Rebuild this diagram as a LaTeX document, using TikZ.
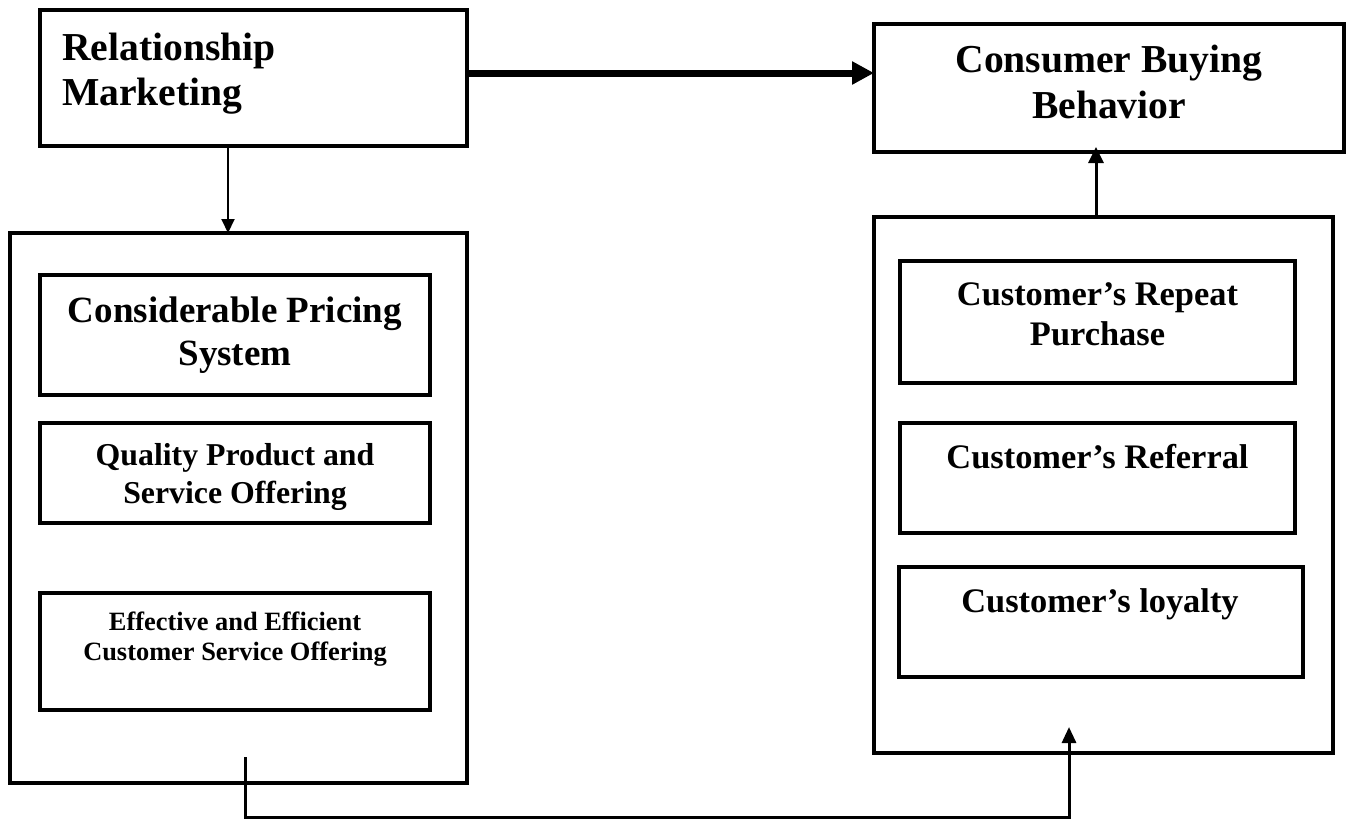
\documentclass[tikz,border=0pt]{standalone}
\usepackage{fontspec}
\setmainfont{Liberation Serif}
\usetikzlibrary{arrows.meta,calc}
\begin{document}
\begin{tikzpicture}[x=1pt,y=-1pt,
  box/.style={draw, line width=3.3pt, rectangle, inner sep=0pt, outer sep=0pt, anchor=north west},
  bigbox/.style={box, line width=4pt},
  topbox/.style={box, line width=3.6pt},
  lbl/.style={inner sep=0pt, anchor=base},
  fA/.style={font=\bfseries\fontsize{39.6}{46}\selectfont},
  fB/.style={font=\bfseries\fontsize{37}{43}\selectfont},
  fC/.style={font=\bfseries\fontsize{31.8}{38}\selectfont},
  fD/.style={font=\bfseries\fontsize{26.4}{30}\selectfont},
  fE/.style={font=\bfseries\fontsize{34.4}{40}\selectfont},
]
\newcommand\mkbox[6]{\node[#1, minimum width={(#5-#3)*1pt}, minimum height={(#6-#4)*1pt}] (#2) at (#3,#4) {};}
\useasboundingbox (0,0) rectangle (1351,819);

% boxes
\mkbox{topbox}{RM}{40}{10}{467}{146}
\mkbox{topbox}{CBB}{874}{24}{1344}{152}
\mkbox{bigbox}{LB}{10}{233}{467}{783}
\mkbox{box}{CPS}{40}{275}{430}{395}
\mkbox{box}{QPS}{40}{423}{430}{523}
\mkbox{box}{EES}{40}{593}{430}{710}
\mkbox{bigbox}{RB}{874}{217}{1333}{753}
\mkbox{box}{CRP}{900}{261}{1295}{383}
\mkbox{box}{CR}{900}{423}{1295}{533}
\mkbox{box}{CL}{899}{567}{1303}{677}

% texts
\node[lbl, fA, anchor=base west] (rmA) at (62,60) {Relationship};
\node[lbl, fA, anchor=base west] (rmB) at (62,105) {Marketing};
\node[lbl, fA] (cbbA) at (1109,72) {Consumer Buying};
\node[lbl, fA] (cbbB) at (1109,118) {Behavior};
\node[lbl, fB] (cpsA) at (235,322) {Considerable Pricing};
\node[lbl, fB] (cpsB) at (235,365) {System};
\node[lbl, fC] (qpsA) at (235,465) {Quality Product and};
\node[lbl, fC] (qpsB) at (235,503) {Service Offering};
\node[lbl, fD] (eesA) at (235,630) {Effective and Efficient};
\node[lbl, fD] (eesB) at (235,660) {Customer Service Offering};
\node[lbl, fE] (crpA) at (1097.5,305) {Customer’s Repeat};
\node[lbl, fE] (crpB) at (1097.5,345) {Purchase};
\node[lbl, fE] (crA) at (1097.5,468) {Customer’s Referral};
\node[lbl, fE] (clA) at (1100,612) {Customer’s loyalty};

% connectors
\coordinate (dx) at (228,0);
\draw[line width=2pt, -{Triangle[width=13pt,length=14pt]}] (RM.south -| dx) -- (LB.north -| dx);
\coordinate (ty) at (0,73);
\draw[line width=7pt, -{Triangle[width=22pt,length=22pt]}] (RM.east |- ty) -- (CBB.west |- ty);
\coordinate (ux) at (1096,0);
\draw[line width=3pt, shorten >=-5pt, -{Triangle[width=15pt,length=16pt]}] (RB.north -| ux) -- (CBB.south -| ux);
\coordinate (bs) at (245,757);
\coordinate (bl) at (245,817);
\coordinate (be) at (1069,727);
\draw[line width=3pt, -{Triangle[width=14pt,length=16pt]}] (bs) -- (bl) -| (be);
\end{tikzpicture}
\end{document}
